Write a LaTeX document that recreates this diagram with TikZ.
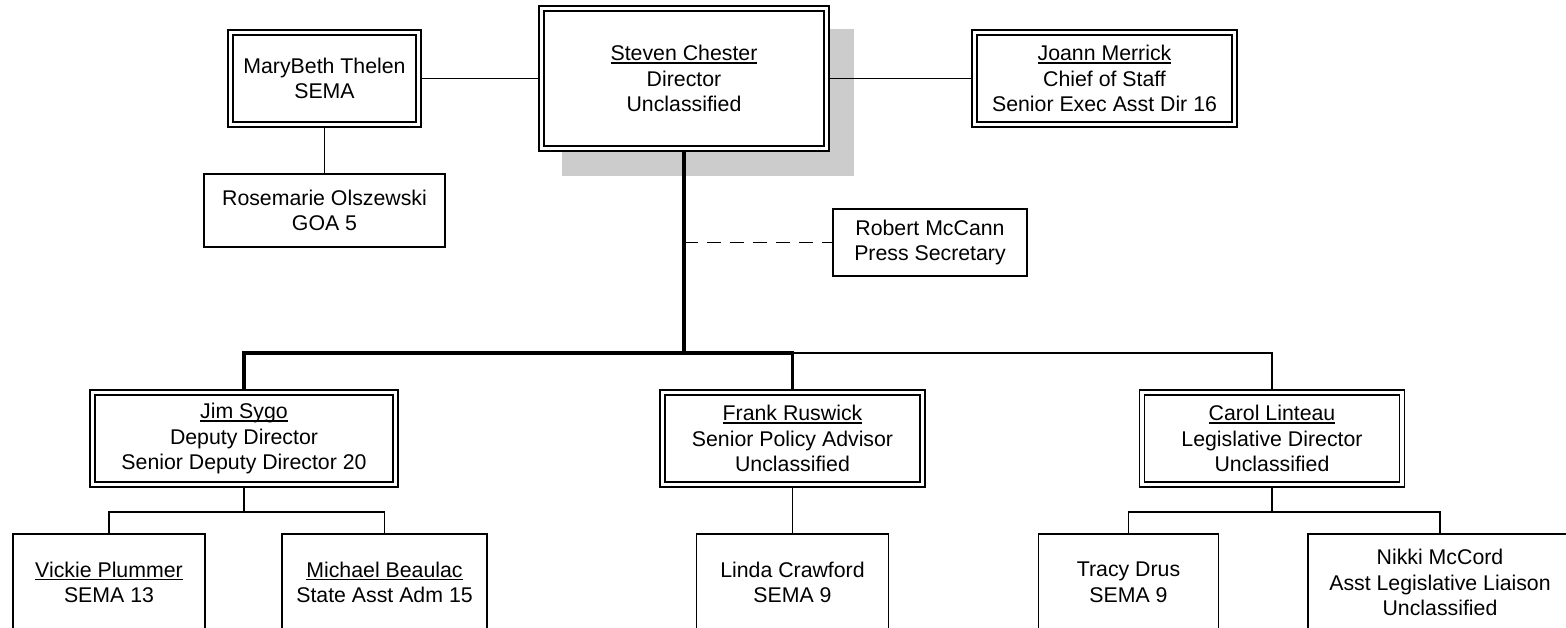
\documentclass[tikz,border=0pt]{standalone}
\usepackage{fontspec}
\setmainfont{Liberation Sans}
\usetikzlibrary{calc}
\pgfdeclarelayer{shadowlayer}
\pgfdeclarelayer{background}
\pgfsetlayers{shadowlayer,background,main}
\newcommand\nm[1]{\leavevmode\setbox0\hbox{#1}\rlap{\rule[-3pt]{\wd0}{1.4pt}}\box0}
\definecolor{shadowgray}{RGB}{204,204,204}
\tikzset{
  person/.style={font=\fontsize{21.3}{25.5}\selectfont, align=center, inner sep=0pt, fill=white, text=black},
  dbox/.style={person, draw, line width=1.6pt, double=white, double distance=3.4pt},
  sbox/.style={person, draw, line width=1.7pt},
  conn/.style={line width=1.7pt},
  thickconn/.style={line width=3.2pt, line join=miter},
  dashconn/.style={line width=1.7pt, dash pattern=on 14pt off 9pt},
}
\begin{document}
\begin{tikzpicture}[x=1pt,y=-1pt]
\useasboundingbox (0,0) rectangle (1566,628);
\clip (0,0) rectangle (1566,628);

% top row
\node[dbox, minimum width=285pt, minimum height=140pt] (chester) at (684,78.5) {\nm{Steven Chester}\\Director\\Unclassified};
\node[dbox, minimum width=188pt, minimum height=92pt] (marybeth) at (324.5,78.5) {MaryBeth Thelen\\SEMA};
\node[dbox, minimum width=260pt, minimum height=92pt] (joann) at (1104.5,78.5) {\nm{Joann Merrick}\\Chief of Staff\\Senior Exec Asst Dir 16};
\node[sbox, minimum width=241pt, minimum height=73pt] (rosemarie) at (324.5,210.5) {Rosemarie Olszewski\\GOA 5};
\node[sbox, minimum width=194pt, minimum height=67pt] (robert) at (930,242.5) {Robert McCann\\Press Secretary};

% middle row
\node[dbox, minimum width=303pt, minimum height=92pt] (jim) at (244,438.5) {\nm{Jim Sygo}\\Deputy Director\\Senior Deputy Director 20};
\node[dbox, minimum width=260pt, minimum height=92pt] (frank) at (792.5,438.5) {\nm{Frank Ruswick}\\Senior Policy Advisor\\Unclassified};
\node[dbox, minimum width=260pt, minimum height=92pt] (carol) at (1272,438.5) {\nm{Carol Linteau}\\Legislative Director\\Unclassified};

% bottom row
\node[sbox, minimum width=192pt, minimum height=97pt] (vickie) at (109,582.5) {\nm{Vickie Plummer}\\SEMA 13};
\node[sbox, minimum width=205pt, minimum height=97pt] (michael) at (384.5,582.5) {\nm{Michael Beaulac}\\State Asst Adm 15};
\node[sbox, minimum width=192pt, minimum height=97pt] (linda) at (792.5,582.5) {Linda Crawford\\SEMA 9};
\node[sbox, minimum width=180pt, minimum height=97pt] (tracy) at (1128.5,582.5) {Tracy Drus\\SEMA 9};
\node[sbox, minimum width=264pt, minimum height=97pt] (nikki) at (1440,582.5) {Nikki McCord\\Asst Legislative Liaison\\Unclassified};

% shadow of the director box
\begin{pgfonlayer}{shadowlayer}
  \fill[shadowgray] ($(chester.north west)+(21.5,21.5)$) rectangle ($(chester.south east)+(26.5,26.5)$);
\end{pgfonlayer}

% connectors
\begin{pgfonlayer}{background}
  \coordinate (busmid) at (684,353);
  \coordinate (busL) at (jim.north |- busmid);
  \coordinate (busR) at (frank.north |- busmid);
  \coordinate (busC) at (carol.north |- busmid);
  \coordinate (jb) at (244,512);
  \coordinate (cb) at (1272,512);
  \draw[conn] (marybeth.east) -- (chester.west);
  \draw[conn] (chester.east) -- (joann.west);
  \draw[conn] (marybeth.south) -- (rosemarie.north);
  \draw[thickconn] (chester.south) -- (busmid);
  \draw[thickconn] (jim.north) -- (busL) -- (busR) -- (frank.north);
  \draw[conn] (busR) -- (busC) -- (carol.north);
  \draw[dashconn] (chester.south |- robert.west) -- (robert.west);
  \draw[conn] (jim.south) -- (jb);
  \draw[conn] (vickie.north) |- (jb) -| (michael.north);
  \draw[conn] (frank.south) -- (linda.north);
  \draw[conn] (carol.south) -- (cb);
  \draw[conn] (tracy.north) |- (cb) -| (nikki.north);
\end{pgfonlayer}
\end{tikzpicture}
\end{document}
